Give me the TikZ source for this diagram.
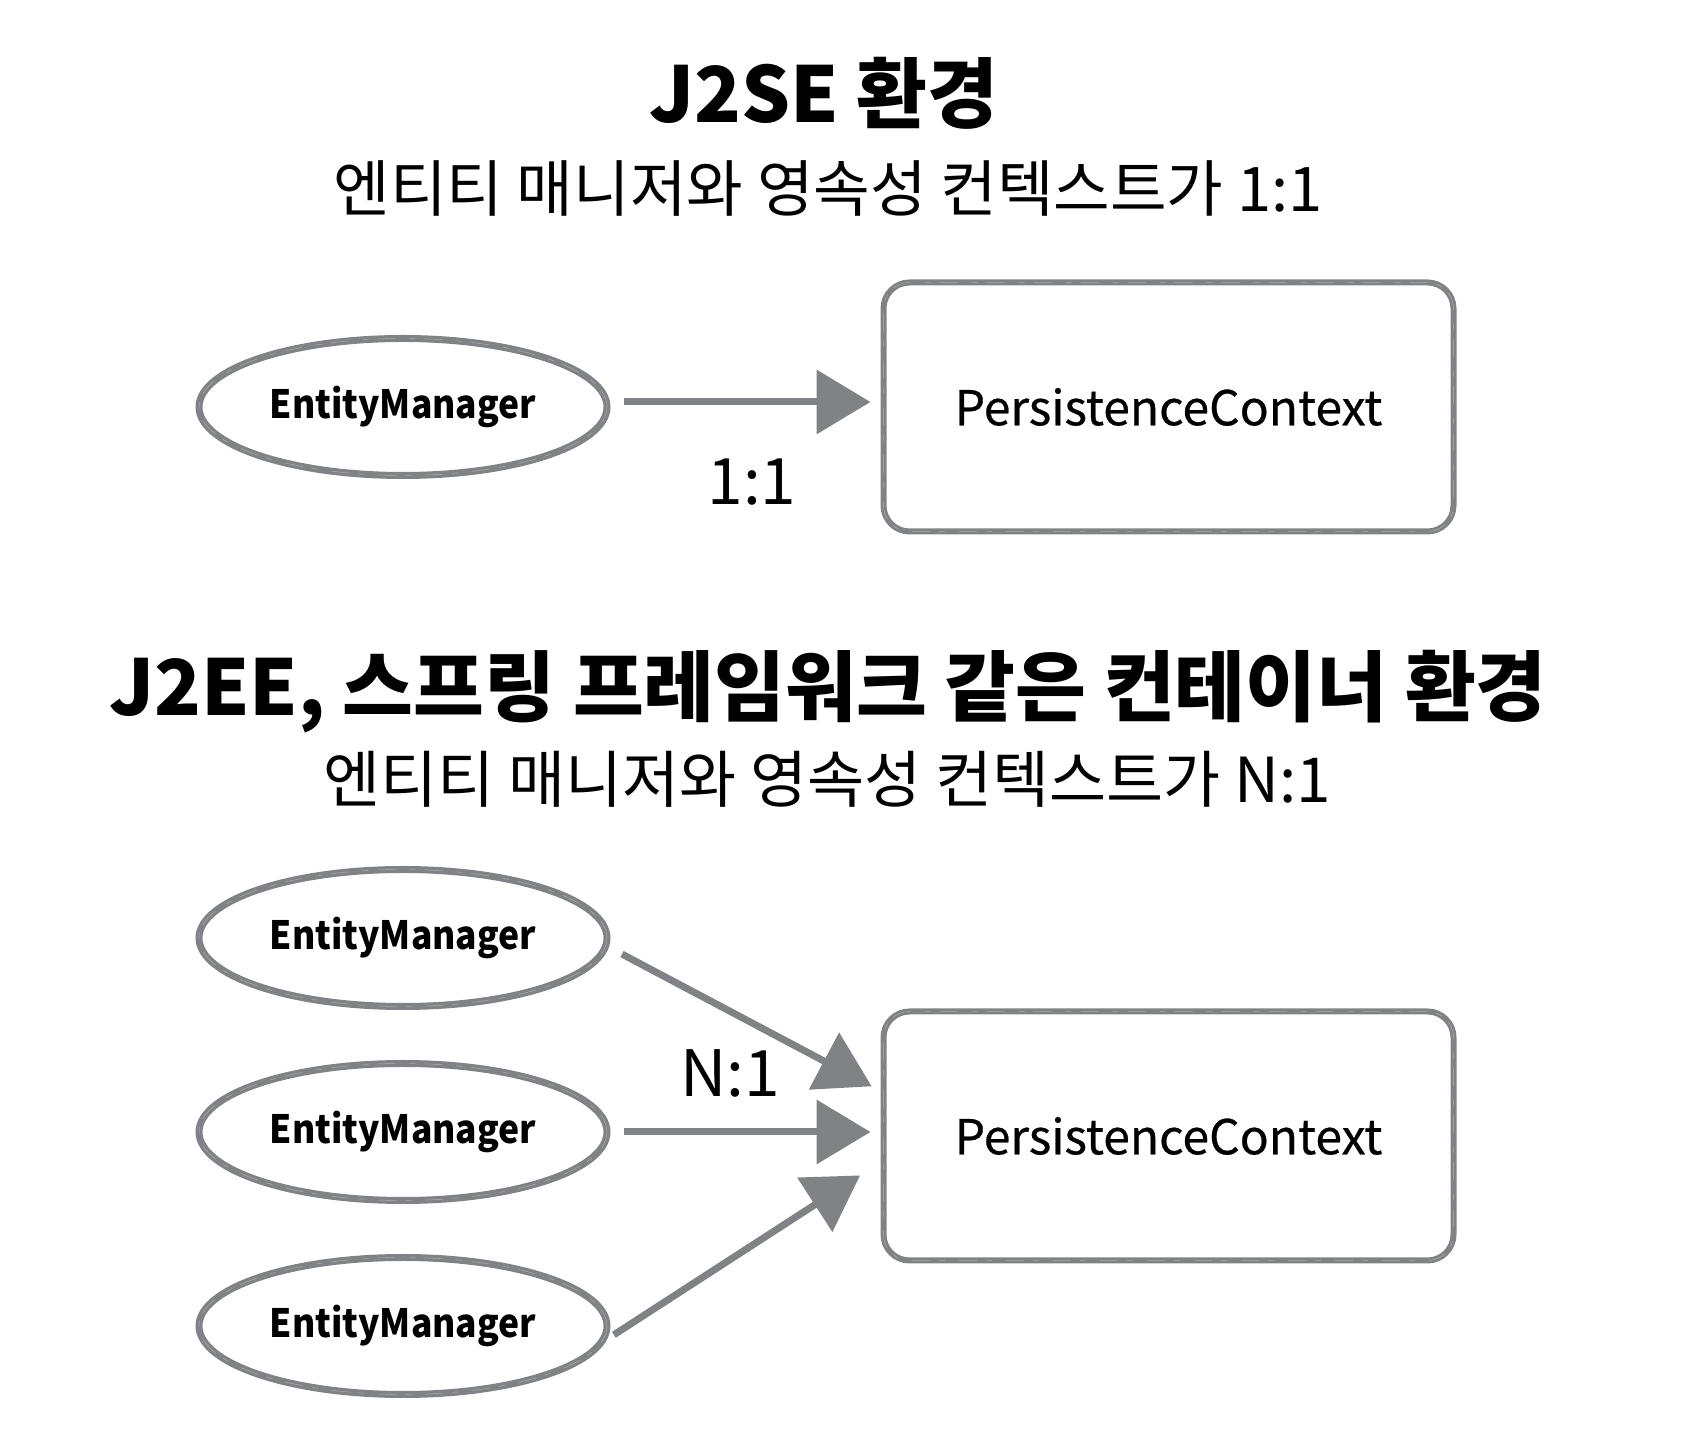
\documentclass[tikz,border=0pt]{standalone}
\usepackage{fontspec}
\setmainfont{Noto Sans CJK KR}
\newfontfamily\narrowfont{Noto Sans CJK KR}[FakeStretch=0.91]
\newfontfamily\midfont{Noto Sans CJK KR}[FakeBold=0.5]
\usetikzlibrary{positioning,arrows.meta,shapes.geometric}
\definecolor{sketch}{RGB}{128,130,133}

\tikzstyle{every node}+=[inner sep=0pt]
\tikzstyle{headline}=[anchor=base,font=\bfseries\fontsize{77pt}{80pt}\selectfont]
\tikzstyle{subline}=[anchor=base,font=\fontsize{61.5pt}{64pt}\selectfont]
\tikzstyle{ratio}=[anchor=base,font=\fontsize{64pt}{68pt}\selectfont]
\tikzstyle{streak}=[postaction={draw=white,line width=0.5pt,opacity=0.35,dash pattern=on 18pt off 9pt on 6pt off 14pt}]
\tikzstyle{manager}=[ellipse,draw=sketch,line width=7pt,streak,minimum width=408pt,minimum height=137pt,font=\narrowfont\bfseries\fontsize{39pt}{44pt}\selectfont]
\tikzstyle{context}=[rectangle,rounded corners=26pt,draw=sketch,line width=6pt,streak,minimum width=570pt,minimum height=249pt,font=\midfont\fontsize{48pt}{52pt}\selectfont]
\tikzstyle{link}=[draw=sketch,line width=7pt,-{Triangle[length=54pt,width=63pt]},shorten <=13pt,shorten >=10pt]

\begin{document}
\begin{tikzpicture}[x=1pt,y=1pt]
\useasboundingbox (0,0) rectangle (1682,1440);

% J2SE
\node[headline] (title1) at (824,1317) {J2SE 환경};
\node[subline] (sub1) at (828,1228) {엔티티 매니저와 영속성 컨텍스트가 1:1};

\node[manager] (emA) at (403,1033) {EntityManager};
\node[context,right=270pt of emA] (pcA) {PersistenceContext};
\draw[link] ([yshift=5pt]emA.east) -- ([yshift=5pt]pcA.west);
\node[ratio] (oneA) at (752,935) {1:1};

% J2EE
\node[headline] (title2) at (828,724) {J2EE, 스프링 프레임워크 같은 컨테이너 환경};
\node[subline,font=\fontsize{62pt}{66pt}\selectfont] (sub2) at (827,637) {엔티티 매니저와 영속성 컨텍스트가 N:1};

\node[manager] (emB1) at (403,502) {EntityManager};
\node[manager,below=50pt of emB1] (emB2) {EntityManager};
\node[manager,below=50pt of emB2] (emB3) {EntityManager};
\node[context,right=270pt of emB2,yshift=-4pt] (pcB) {PersistenceContext};

\draw[link] ([yshift=-10pt]emB1.east) -- ([yshift=45pt]pcB.west);
\draw[link] (emB2.east) -- (emB2.east -| pcB.west);
\draw[link,shorten <=4pt] ([yshift=-11pt]emB3.east) -- ([xshift=-12pt,yshift=-34pt]pcB.west);
\node[ratio] (manyB) at (730,343) {N:1};
\end{tikzpicture}
\end{document}
